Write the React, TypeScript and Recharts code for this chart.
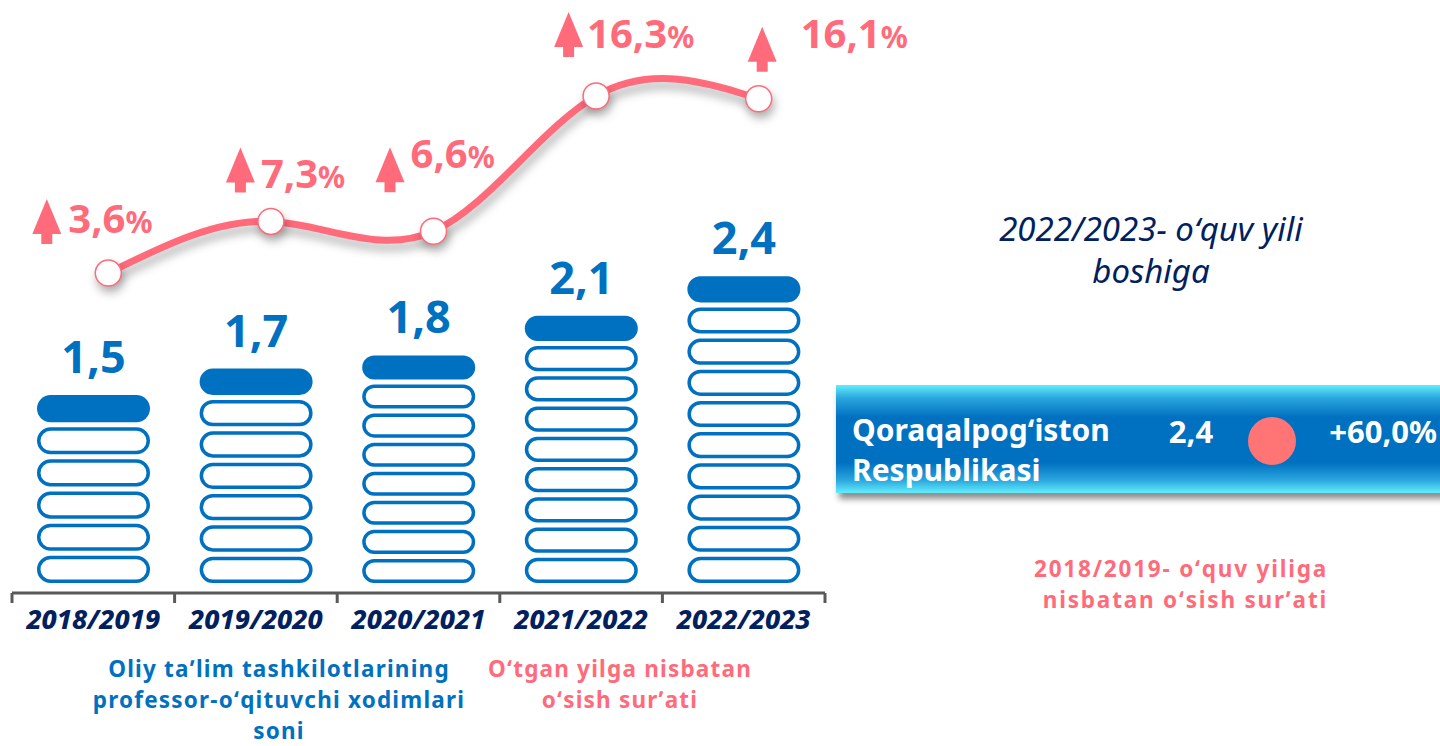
import React from 'react';
import { ComposedChart, Bar, Line, XAxis, YAxis } from 'recharts';

// ---------- data ----------
const years = ['2018/2019', '2019/2020', '2020/2021', '2021/2022', '2022/2023'];
const staffCount = [1.5, 1.7, 1.8, 2.1, 2.4];
const staffLabels = ['1,5', '1,7', '1,8', '2,1', '2,4'];
const growthPct = [3.6, 7.3, 6.6, 16.3, 16.1];
const growthLabels = ['3,6', '7,3', '6,6', '16,3', '16,1'];
const SEGMENT_UNIT = 0.25; // each stacked pill = 0.25 thousand

const data = years.map((y, i) => ({
  year: y,
  staff: staffCount[i],
  staffLabel: staffLabels[i],
  growth: growthPct[i],
  growthLabel: growthLabels[i],
}));

// ---------- style ----------
const FONT = "'Noto Sans', 'Open Sans', sans-serif";
const BLUE = '#0070C0';
const NAVY = '#002060';
const PINK = '#FF6B7B';

const CHART_W = 960;
const CHART_H = 700;
const PLOT_BOTTOM = 593;
const M_LEFT = 12;
const PLOT_RIGHT = 825;
const M_RIGHT = CHART_W - PLOT_RIGHT;
const HALF_BAND = (PLOT_RIGHT - M_LEFT) / years.length / 2;

// label layout offsets relative to each point (arrow top-left, text start/baseline)
const LABEL_LAYOUT = [
  { ax: -76, ay: -74, tx: -40, ty: -40 },
  { ax: -45, ay: -74, tx: -10, ty: -33 },
  { ax: -58, ay: -84, tx: -23, ty: -63 },
  { ax: -42, ay: -84, tx: -9, ty: -48 },
  { ax: -11, ay: -72, tx: 42, ty: -51 },
];

const StackShape = (props: any) => {
  const { x, y, width, height, payload } = props;
  if (height == null || height <= 0) return null;
  const n = Math.ceil(payload.staff / SEGMENT_UNIT - 1e-6);
  const usable = height - 5;
  const pitch = usable / n;
  const segH = pitch - 5;
  const sw = 3.5;
  const items: any[] = [];
  for (let k = 0; k < n; k++) {
    const top = y + k * pitch;
    if (k === 0) {
      items.push(
        <rect key={k} x={x} y={top} width={width} height={segH} rx={segH / 2} fill={BLUE} />
      );
    } else {
      items.push(
        <rect
          key={k}
          x={x + sw / 2}
          y={top + sw / 2}
          width={width - sw}
          height={segH - sw}
          rx={(segH - sw) / 2}
          fill="#fff"
          stroke={BLUE}
          strokeWidth={sw}
        />
      );
    }
  }
  return (
    <g>
      {items}
      <text
        x={x + width / 2}
        y={y - 22}
        textAnchor="middle"
        fontFamily={FONT}
        fontWeight={700}
        fontSize={45}
        fill={BLUE}
      >
        {payload.staffLabel}
      </text>
    </g>
  );
};

const GrowthDot = (props: any) => {
  const { cx, cy, index, payload } = props;
  if (cx == null || cy == null) return null;
  const L = LABEL_LAYOUT[index] || LABEL_LAYOUT[0];
  const ax = cx + L.ax;
  const ay = cy + L.ay;
  return (
    <g>
      <circle
        cx={cx}
        cy={cy}
        r={13}
        fill="#fff"
        stroke={PINK}
        strokeWidth={1.5}
        style={{ filter: 'drop-shadow(2px 6px 5px rgba(0,0,0,0.3))' }}
      />
      <path
        d={`M${ax + 14.5},${ay} L${ax + 29},${ay + 35} L${ax + 20},${ay + 35} L${ax + 20},${ay + 45} L${ax + 9},${ay + 45} L${ax + 9},${ay + 35} L${ax},${ay + 35} Z`}
        fill={PINK}
      />
      <text x={cx + L.tx} y={cy + L.ty} fontFamily={FONT} fontWeight={700} fill={PINK}>
        <tspan fontSize={40}>{payload.growthLabel}</tspan>
        <tspan fontSize={30}>%</tspan>
      </text>
    </g>
  );
};

const CatTick = (props: any) => {
  const { x, payload, index, visibleTicksCount } = props;
  const y = PLOT_BOTTOM;
  const last = index === (visibleTicksCount ?? years.length) - 1;
  return (
    <g>
      <line x1={x - HALF_BAND} y1={y} x2={x - HALF_BAND} y2={y + 10} stroke="#595959" strokeWidth={3} />
      {last && (
        <line x1={x + HALF_BAND} y1={y} x2={x + HALF_BAND} y2={y + 10} stroke="#595959" strokeWidth={3} />
      )}
      <text
        x={x}
        y={y + 36}
        textAnchor="middle"
        fontFamily={FONT}
        fontWeight={800}
        fontStyle="italic"
        fontSize={27}
        fill={NAVY}
      >
        {payload.value}
      </text>
    </g>
  );
};

const capStyle = { letterSpacing: '1.2px' };

export default function App() {
  return (
    <div style={{ position: 'absolute', left: 0, top: 0, width: 1440, height: 746, background: '#fff', overflow: 'hidden' }}>
      <style>{`.growth-line .recharts-line-curve { filter: drop-shadow(2px 7px 5px rgba(0,0,0,0.3)); }`}</style>
      <div style={{ position: 'absolute', left: 0, top: 0 }}>
        <ComposedChart
          width={CHART_W}
          height={CHART_H}
          data={data}
          margin={{ top: 3, right: M_RIGHT, bottom: 0, left: M_LEFT }}
        >
          <XAxis xAxisId="line" dataKey="year" hide orientation="top" height={0} padding={{ left: 15, right: -15 }} />
          <XAxis
            xAxisId="main"
            dataKey="year"
            height={CHART_H - PLOT_BOTTOM}
            interval={0}
            axisLine={{ stroke: '#595959', strokeWidth: 3 }}
            tickLine={false}
            tickSize={0}
            tickMargin={0}
            tick={<CatTick />}
          />
          <YAxis yAxisId="count" hide domain={[0, 4.47]} allowDataOverflow />
          <YAxis yAxisId="pct" hide domain={[-19.35, 22.97]} allowDataOverflow />
          <Bar
            xAxisId="main"
            yAxisId="count"
            dataKey="staff"
            barSize={113}
            shape={<StackShape />}
            isAnimationActive={false}
          />
          <Line
            xAxisId="line"
            yAxisId="pct"
            dataKey="growth"
            type="natural"
            stroke={PINK}
            strokeWidth={7}
            className="growth-line"
            dot={(p: any) => <GrowthDot key={`d${p.index}`} {...p} />}
            activeDot={false}
            isAnimationActive={false}
          />
        </ComposedChart>
      </div>
      <svg width={1440} height={746} style={{ position: 'absolute', left: 0, top: 0, pointerEvents: 'none' }}>
        <defs>
          <linearGradient id="boxGrad" x1="0" y1="0" x2="0" y2="1">
            <stop offset="0" stopColor="#62EEFC" />
            <stop offset="0.12" stopColor="#2AA6DE" />
            <stop offset="0.3" stopColor="#0070C0" />
            <stop offset="0.72" stopColor="#0070C0" />
            <stop offset="0.88" stopColor="#2AA6DE" />
            <stop offset="1" stopColor="#62EEFC" />
          </linearGradient>
        </defs>
        {/* period caption */}
        <text x={1151} y={241} textAnchor="middle" fontFamily={FONT} fontStyle="italic" fontSize={33} fill={NAVY}>
          2022/2023- oʻquv yili
        </text>
        <text x={1151} y={283} textAnchor="middle" fontFamily={FONT} fontStyle="italic" fontSize={33} fill={NAVY}>
          boshiga
        </text>
        {/* region box */}
        <rect
          x={836}
          y={385}
          width={610}
          height={108}
          fill="url(#boxGrad)"
          style={{ filter: 'drop-shadow(3px 6px 3px rgba(0,0,0,0.45))' }}
        />
        <text x={852} y={441} fontFamily={FONT} fontWeight={700} fontSize={30} fill="#fff">
          Qoraqalpogʻiston
        </text>
        <text x={852} y={481} fontFamily={FONT} fontWeight={700} fontSize={30} fill="#fff">
          Respublikasi
        </text>
        <text x={1191} y={443} textAnchor="middle" fontFamily={FONT} fontWeight={700} fontSize={31} fill="#fff">
          2,4
        </text>
        <circle cx={1272} cy={441} r={24} fill="#FF7575" />
        <text x={1437} y={443} textAnchor="end" fontFamily={FONT} fontWeight={700} fontSize={31} fill="#fff">
          +60,0%
        </text>
        {/* base-year growth caption */}
        <text x={1328} y={577} textAnchor="end" fontFamily={FONT} fontWeight={700} fontSize={22.5} fill={PINK} style={{ letterSpacing: '1.8px' }}>
          2018/2019- oʻquv yiliga
        </text>
        <text x={1328} y={608} textAnchor="end" fontFamily={FONT} fontWeight={700} fontSize={22.5} fill={PINK} style={{ letterSpacing: '1.8px' }}>
          nisbatan oʻsish surʼati
        </text>
        {/* legends */}
        <text x={279} y={677} textAnchor="middle" fontFamily={FONT} fontWeight={700} fontSize={22.5} fill={BLUE} style={capStyle}>
          Oliy taʼlim tashkilotlarining
        </text>
        <text x={279} y={708} textAnchor="middle" fontFamily={FONT} fontWeight={700} fontSize={22.5} fill={BLUE} style={capStyle}>
          professor-oʻqituvchi xodimlari
        </text>
        <text x={279} y={739} textAnchor="middle" fontFamily={FONT} fontWeight={700} fontSize={22.5} fill={BLUE} style={capStyle}>
          soni
        </text>
        <text x={620} y={677} textAnchor="middle" fontFamily={FONT} fontWeight={700} fontSize={22.5} fill={PINK} style={capStyle}>
          Oʻtgan yilga nisbatan
        </text>
        <text x={620} y={708} textAnchor="middle" fontFamily={FONT} fontWeight={700} fontSize={22.5} fill={PINK} style={capStyle}>
          oʻsish surʼati
        </text>
      </svg>
    </div>
  );
}
